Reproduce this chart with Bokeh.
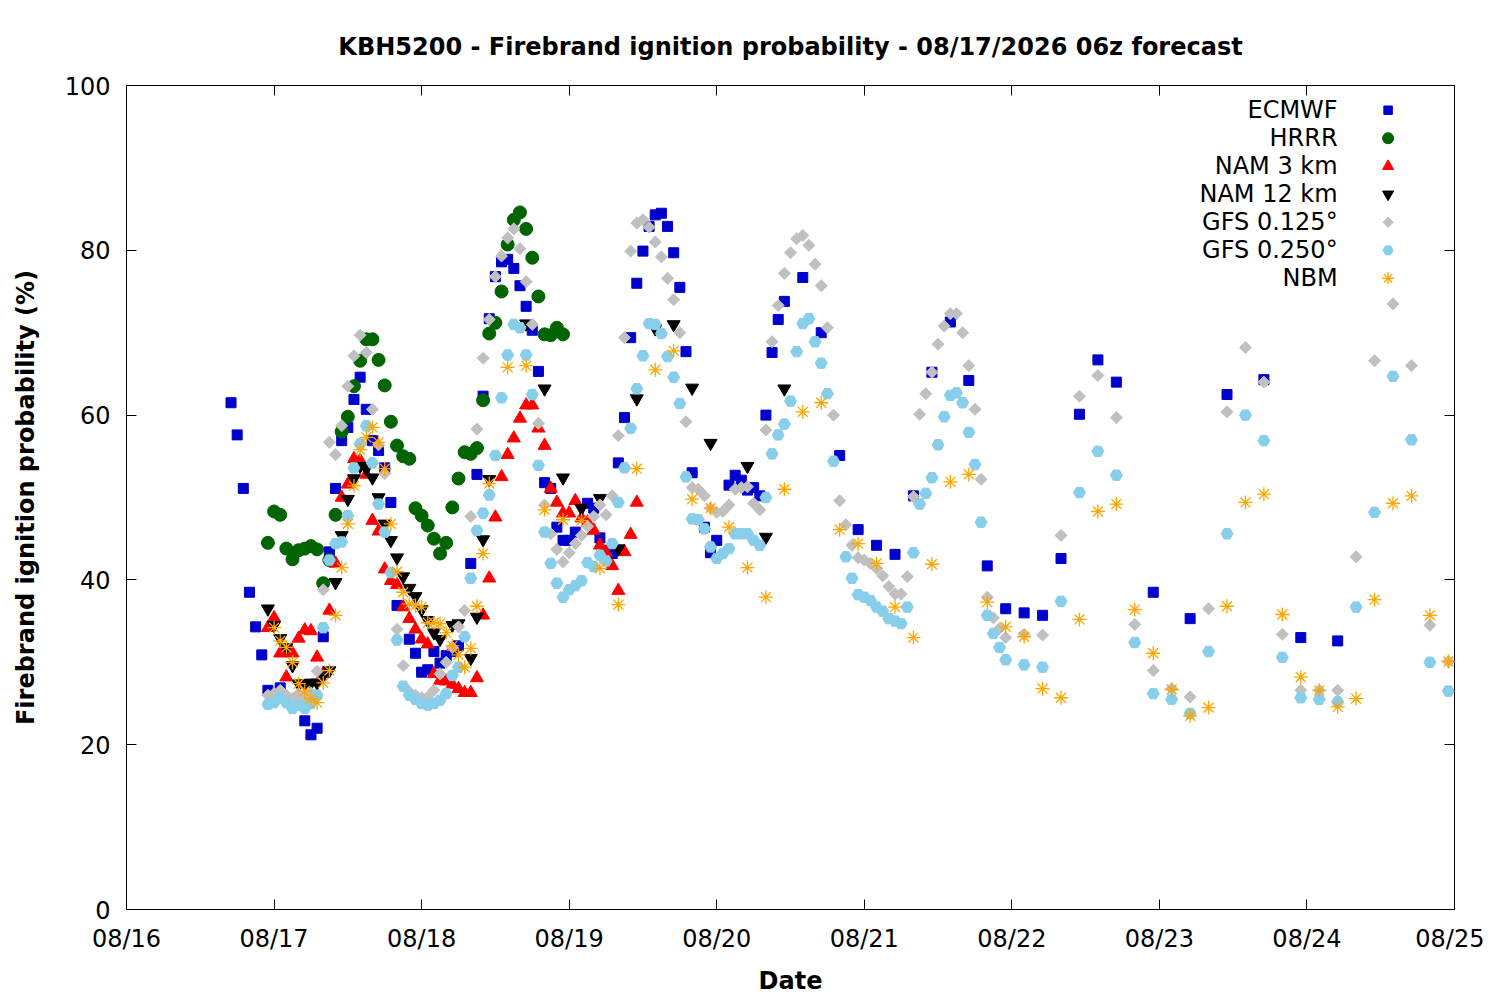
from math import pi
import pandas as pd
from bokeh.plotting import figure
from bokeh.models import (Range1d, DatetimeAxis, LinearAxis, FixedTicker,
                          DatetimeTickFormatter, CustomJSTickFormatter)
from bokeh.core.properties import value
from bokeh.embed import file_html
from bokeh.resources import INLINE

# hours after 08/16 00:00 and ignition probability (%)
ecmwf_h = [17, 18, 19, 20, 21, 22, 23, 25, 29, 30, 31, 32, 33, 34, 35, 36, 37, 38, 39, 40,
           41, 42, 43, 44, 46, 47, 48, 49, 50, 51, 52, 53, 54, 56, 57, 58, 59, 60, 61, 62,
           63, 64, 65, 66, 67, 68, 69, 70, 71, 72, 73, 75, 76, 77, 78, 79, 80, 81, 82, 83,
           84, 85, 86, 87, 88, 89, 90, 91, 92, 94, 95, 96, 98, 99, 100, 101, 102, 103, 104,
           105, 106, 107, 110, 113, 116, 119, 122, 125, 128, 131, 134, 137, 140, 143, 146,
           149, 152, 155, 158, 161, 167, 173, 179, 185, 191, 197]
ecmwf_v = [61.5, 57.6, 51.1, 38.5, 34.3, 30.9, 26.6, 26.9, 22.9, 21.2, 22.0, 33.1, 43.4, 51.1,
           56.9, 58.5, 61.9, 64.6, 60.7, 56.9, 55.7, 53.6, 49.4, 36.9, 32.8, 31.1, 28.8, 29.1,
           31.3, 29.9, 30.8, 31.3, 32.0, 42.0, 52.8, 62.3, 71.7, 76.8, 78.6, 78.9, 77.8, 75.7,
           73.2, 70.3, 65.3, 51.8, 51.1, 46.4, 44.8, 44.8, 45.8, 49.3, 48.7, 45.1, 43.6, 43.2,
           54.2, 59.7, 69.4, 76.0, 79.9, 82.9, 84.3, 84.5, 82.9, 79.7, 75.5, 67.7, 53.0, 46.4,
           43.3, 44.8, 51.5, 52.7, 52.1, 50.9, 51.2, 50.2, 60.0, 67.6, 71.6, 73.8, 76.7, 70.0,
           55.1, 46.1, 44.2, 43.1, 50.2, 65.2, 71.3, 64.2, 41.7, 36.5, 36.0, 35.7, 42.6, 60.1,
           66.7, 64.0, 38.5, 35.3, 62.5, 64.3, 33.0, 32.6]

hrrr_h = list(range(23, 72))
hrrr_v = [44.5, 48.3, 47.9, 43.8, 42.5, 43.6, 43.8, 44.1, 43.7, 39.6, 42.4, 47.9, 58.0, 59.8,
          63.5, 66.6, 69.2, 69.2, 66.7, 63.6, 59.2, 56.3, 55.0, 54.7, 48.7, 47.8, 46.6, 45.0,
          43.2, 44.5, 48.8, 52.3, 55.5, 55.3, 56.0, 61.8, 69.9, 71.2, 75.0, 80.7, 83.7, 84.6,
          82.6, 79.1, 74.4, 69.8, 69.7, 70.6, 69.8]

nam3_h = list(range(23, 84))
nam3_v = [34.2, 35.4, 31.1, 28.2, 31.1, 32.9, 33.9, 33.8, 30.6, 28.6, 36.3, 42.0, 50.0, 51.6,
          54.7, 54.5, 52.8, 47.2, 45.9, 41.3, 39.9, 39.4, 36.7, 35.3, 34.0, 32.8, 32.2, 28.6,
          27.8, 27.7, 27.3, 26.8, 26.3, 26.3, 28.1, 35.7, 40.2, 47.6, 52.5, 55.2, 57.2, 59.6,
          61.2, 61.2, 58.4, 56.3, 51.1, 49.4, 48.1, 48.1, 49.6, 47.5, 47.0, 46.0, 44.2, 43.3,
          41.7, 38.7, 43.4, 45.5, 49.4]

nam12_h = [23, 24, 25, 26, 27, 28, 29, 30, 31, 32, 33, 34, 35, 36, 37, 38, 39, 40, 41, 42,
           43, 44, 45, 46, 47, 48, 49, 50, 51, 53, 54, 56, 57, 58, 59, 65, 68, 71, 74, 77,
           80, 83, 86, 89, 92, 95, 101, 104, 107]
nam12_v = [36.5, 34.5, 32.9, 31.8, 29.6, 27.4, 27.4, 27.5, 27.5, 28.4, 29.0, 39.7, 45.4, 49.8,
           52.3, 53.8, 53.5, 52.4, 50.0, 46.8, 44.8, 42.7, 40.4, 39.0, 38.0, 36.4, 35.1, 33.6,
           32.8, 34.5, 34.7, 30.5, 35.5, 44.9, 52.2, 71.1, 63.2, 52.4, 48.7, 49.9, 43.8, 62.0,
           70.5, 71.0, 63.3, 56.6, 53.8, 45.2, 63.2]

gfs125_h = [h for h in range(23, 144) if h != 43] + list(range(146, 216, 3))
gfs125_v = [26.0, 26.2, 26.6, 26.0, 25.6, 26.2, 25.7, 26.3, 28.9, 38.8, 56.7, 55.2, 58.7, 63.5,
            67.2, 69.7, 67.6, 60.7, 56.4, 52.9, 34.0, 29.6, 26.4, 26.0, 25.7, 25.8, 26.6,
            28.6, 30.0, 31.8, 34.3, 36.3, 47.7, 58.3, 66.9, 71.6, 76.8, 79.3, 81.5, 82.6, 80.2,
            76.2, 71.0, 59.0, 49.1, 45.6, 43.7, 42.2, 43.3, 44.4, 45.4, 46.5, 47.7, 49.1, 47.9,
            50.2, 57.5, 69.4, 79.9, 83.3, 83.7, 82.8, 81.0, 79.2, 76.6, 74.0, 70.0, 59.2, 51.2,
            51.0, 50.2, 48.7, 48.2, 48.3, 49.1, 51.0, 51.2, 51.3, 49.3, 48.5, 58.2, 68.9, 73.3,
            77.2, 79.7, 81.4, 81.8, 80.6, 78.3, 75.7, 70.6, 60.0, 49.6, 46.7, 44.2, 42.7, 42.4,
            42.0, 41.4, 40.5, 39.2, 38.3, 38.3, 40.4, 50.1, 60.1, 62.6, 65.2, 68.6, 70.8, 72.3,
            72.3, 70.0, 66.0, 60.7, 52.2, 37.9, 35.4, 34.1, 33.0, 33.4, 33.3, 45.4, 62.3, 64.8,
            59.7, 34.6, 29.0, 26.8, 25.8, 36.5, 60.4, 68.2, 64.0, 33.4, 26.6, 26.6, 26.6, 42.8,
            66.6, 73.5, 66.0, 34.5, 30.1]

gfs250_h = [h for h in range(23, 144) if h != 116] + list(range(146, 216, 3))
gfs250_v = [24.9, 25.1, 25.7, 25.1, 24.4, 24.8, 24.4, 25.0, 26.0, 34.2, 42.4, 44.4, 44.6, 47.8,
            53.6, 56.5, 58.7, 54.2, 49.2, 45.8, 40.9, 32.7, 27.1, 26.0, 25.5, 25.0, 24.8, 25.0,
            25.4, 26.2, 28.4, 29.4, 33.1, 40.2, 46.0, 48.1, 50.3, 55.1, 62.1, 67.3, 71.0, 70.6,
            67.3, 62.5, 53.9, 45.8, 42.0, 39.6, 37.9, 38.8, 39.3, 39.9, 42.1, 41.6, 43.0, 42.3,
            44.4, 49.4, 53.6, 58.4, 63.2, 67.2, 71.1, 71.0, 69.9, 67.1, 64.6, 61.4, 52.5, 47.4,
            47.3, 46.2, 44.0, 42.6, 43.2, 43.8, 45.6, 45.6, 45.6, 44.8, 44.2, 50.0, 55.3, 57.6,
            58.9, 61.7, 67.7, 71.1, 71.7, 68.9, 66.3, 62.6, 54.4, 42.8, 40.2, 38.2, 37.9, 37.5,
            36.7, 36.2, 35.3, 35.0, 34.7, 36.7, 43.3, 49.2, 50.5, 52.4, 56.4, 59.8, 62.4, 62.7,
            61.5, 57.9, 54.0, 47.0, 35.7, 33.5, 31.8, 30.3, 29.7, 29.4, 37.4, 50.6, 55.6, 52.7,
            32.4, 26.2, 25.5, 23.8, 31.3, 45.6, 60.0, 56.9, 30.6, 25.7, 25.5, 25.2, 36.7, 48.2,
            64.7, 57.0, 30.0, 26.5]

nbm_h = list(range(24, 60)) + list(range(62, 216, 3))
nbm_v = [34.2, 32.6, 31.8, 30.0, 27.4, 26.5, 25.6, 25.1, 27.5, 29.0, 35.7, 41.5, 46.8, 51.4,
         55.8, 57.3, 58.5, 56.7, 53.5, 46.8, 41.0, 38.5, 37.1, 36.9, 36.7, 34.8, 34.8, 34.7,
         33.6, 32.0, 30.9, 29.4, 31.7, 36.8, 43.2, 51.7, 65.8, 66.0, 48.5, 47.3, 47.2, 41.4,
         37.0, 53.5, 65.5, 67.8, 49.8, 48.7, 46.4, 41.5, 37.9, 51.0, 60.4, 61.5, 46.1, 44.4,
         42.0, 36.7, 33.0, 41.9, 51.9, 52.8, 37.3, 34.3, 33.1, 26.8, 25.7, 35.2, 48.3, 49.2,
         36.4, 31.1, 26.7, 23.5, 24.5, 36.8, 49.4, 50.4, 35.8, 28.2, 26.6, 24.6, 25.6, 37.6,
         49.3, 50.2, 35.7, 30.1]

date_ticks = ["2026-08-%02d" % d for d in range(16, 26)]
y_ticks = [0, 20, 40, 60, 80, 100]

base = pd.Timestamp("2026-08-16")
FONT = "DejaVu Sans"
FSIZE = "24px"

series = [
    ("ECMWF", ecmwf_h, ecmwf_v, dict(marker="square", size=10, angle=0,
                                    fill_color="#0000cd", line_color="#0000cd", line_width=1)),
    ("HRRR", hrrr_h, hrrr_v, dict(marker="circle", size=13, angle=0,
                                  fill_color="#006400", line_color="#006400", line_width=1)),
    ("NAM 3 km", nam3_h, nam3_v, dict(marker="triangle", size=13, angle=0,
                                      fill_color="#ff0000", line_color="#ff0000", line_width=1)),
    ("NAM 12 km", nam12_h, nam12_v, dict(marker="inverted_triangle", size=13, angle=0,
                                         fill_color="black", line_color="black", line_width=1)),
    ("GFS 0.125\u00b0", gfs125_h, gfs125_v, dict(marker="square", size=8.5, angle=pi / 4,
                                                 fill_color="#c0c0c0", line_color="#c0c0c0",
                                                 line_width=1)),
    ("GFS 0.250\u00b0", gfs250_h, gfs250_v, dict(marker="hex", size=12, angle=0,
                                                 fill_color="#87ceeb", line_color="#87ceeb",
                                                 line_width=1)),
    ("NBM", nbm_h, nbm_v, dict(marker="asterisk", size=14, angle=0,
                               fill_color="#ffa500", line_color="#ffa500", line_width=1.3)),
]

x_start = base
x_end = base + pd.Timedelta(hours=216)

p = figure(x_axis_type="datetime", frame_width=1328, frame_height=824,
           x_range=Range1d(x_start, x_end), y_range=Range1d(0, 100),
           toolbar_location=None, output_backend="svg",
           min_border_left=126, min_border_right=30, min_border_top=85,
           min_border_bottom=80, x_axis_location=None, y_axis_location=None)

p.title.text = "KBH5200 - Firebrand ignition probability - 08/17/2026 06z forecast"
p.title.align = "center"
p.title.text_font = FONT
p.title.text_font_size = FSIZE
p.title.text_font_style = "bold"
p.title.text_color = "black"
p.title.standoff = 49
p.xgrid.grid_line_color = None
p.ygrid.grid_line_color = None
p.outline_line_color = "black"
p.outline_line_width = 1
p.background_fill_color = "white"
p.border_fill_color = "white"

xt = FixedTicker(ticks=[pd.Timestamp(d).value / 1e6 for d in date_ticks])
yt = FixedTicker(ticks=y_ticks)
fmt = DatetimeTickFormatter(days="%m/%d", months="%m/%d", hours="%m/%d")
blank = CustomJSTickFormatter(code="return '';")


def style_axis(ax, show):
    ax.axis_line_color = None
    ax.major_tick_in = 10
    ax.major_tick_out = 0
    ax.minor_tick_line_color = None
    ax.major_tick_line_color = "black"
    ax.major_label_text_font = FONT
    ax.major_label_text_font_size = FSIZE
    ax.major_label_text_color = "black"
    if show:
        ax.axis_label_text_font = FONT
        ax.axis_label_text_font_size = FSIZE
        ax.axis_label_text_font_style = "bold"
        ax.axis_label_text_color = "black"
    else:
        ax.formatter = blank
        ax.major_label_standoff = 0


bottom = DatetimeAxis(ticker=xt, formatter=fmt, axis_label="Date")
style_axis(bottom, True)
bottom.major_label_standoff = 15
bottom.axis_label_standoff = 11
p.add_layout(bottom, "below")

top = DatetimeAxis(ticker=xt)
style_axis(top, False)
p.add_layout(top, "above")

left = LinearAxis(ticker=yt, axis_label="Firebrand ignition probability (%)")
style_axis(left, True)
left.major_label_standoff = 16
left.axis_label_standoff = 22
p.add_layout(left, "left")

right = LinearAxis(ticker=yt)
style_axis(right, False)
p.add_layout(right, "right")

for name, hours, vals, st in series:
    xs = [base + pd.Timedelta(hours=h) for h in hours]
    p.scatter(xs, vals, **st)

# key in the top right corner, text left of the marker
span_h = 216
key_text_x = base + pd.Timedelta(hours=span_h * 0.912)
key_mark_x = base + pd.Timedelta(hours=span_h * 0.950)
for i, (name, hours, vals, st) in enumerate(series):
    ky = 97.0 - 3.4 * i
    p.text([key_text_x], [ky], text=[name], text_align="right", text_baseline="middle",
           text_font=value(FONT), text_font_size=FSIZE, text_color="black")
    kst = dict(st)
    kst["size"] = st["size"] * 0.85
    p.scatter([key_mark_x], [ky], **kst)

open("out.html", "w").write(file_html(p, INLINE))
